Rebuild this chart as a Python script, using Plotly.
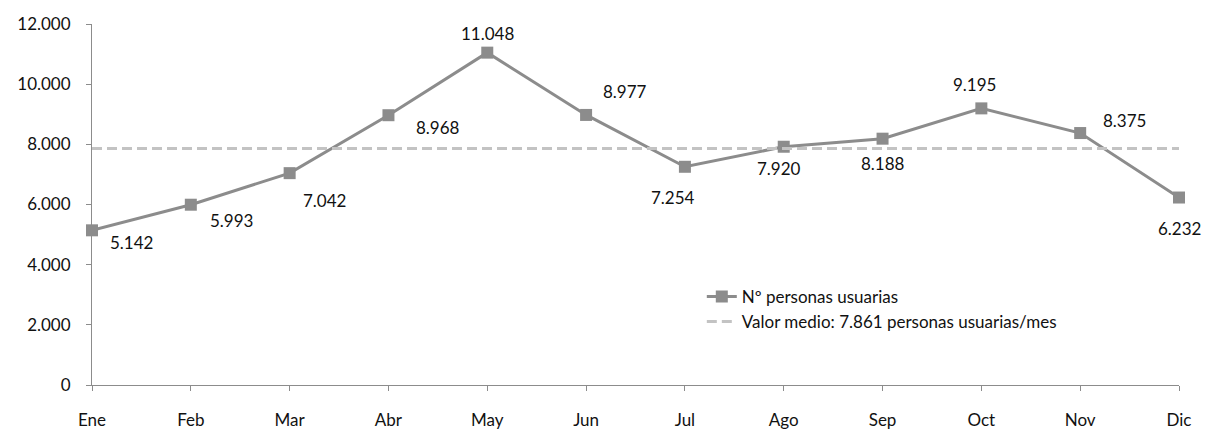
import plotly.graph_objects as go

# datos
meses = ['Ene', 'Feb', 'Mar', 'Abr', 'May', 'Jun', 'Jul', 'Ago', 'Sep', 'Oct', 'Nov', 'Dic']
usuarias = [5142, 5993, 7042, 8968, 11048, 8977, 7254, 7920, 8188, 9195, 8375, 6232]
media = 7861
y_ticks = [0, 2000, 4000, 6000, 8000, 10000, 12000]
y_tick_labels = ['0', '2.000', '4.000', '6.000', '8.000', '10.000', '12.000']

# desplazamiento de cada etiqueta respecto a su punto (px)
label_shift = [(39, -12), (41, -16), (35, -27), (50, -12), (0, 19), (39, 23),
               (-12, -31), (-5, -22), (0, -25), (-7, 24), (44, 13), (0, -31)]

GRIS = '#8c8c8c'
GRIS_CLARO = '#c3c3c3'
FUENTE = 'Lato, Calibri, sans-serif'


def fmt(v):
    return f'{v:,}'.replace(',', '.')


fig = go.Figure()
fig.add_trace(go.Scatter(
    x=meses, y=usuarias, mode='lines+markers', name='Nº personas usuarias',
    line=dict(color=GRIS, width=3),
    marker=dict(symbol='square', size=12, color=GRIS),
    cliponaxis=False,
))
fig.add_trace(go.Scatter(
    x=meses, y=[media] * len(meses), mode='lines',
    name=f'Valor medio: {fmt(media)} personas usuarias/mes',
    line=dict(color=GRIS_CLARO, width=3, dash='10px,5px'),
    cliponaxis=False,
))

for m, v, (dx, dy) in zip(meses, usuarias, label_shift):
    fig.add_annotation(x=m, y=v, text=fmt(v), showarrow=False,
                       xshift=dx, yshift=dy, font=dict(size=17, color='#111'))

fig.update_layout(
    width=1211, height=432,
    paper_bgcolor='white', plot_bgcolor='white',
    font=dict(family=FUENTE, size=17, color='#111'),
    margin=dict(l=92, r=32, t=24, b=47),
    showlegend=True,
    legend=dict(x=0.561, y=0.294, xanchor='left', yanchor='top',
                bgcolor='rgba(0,0,0,0)', font=dict(size=17),
                tracegroupgap=0, itemwidth=30),
)
fig.update_xaxes(
    type='category', range=[0, len(meses) - 1], automargin=False,
    showline=True, linecolor=GRIS, linewidth=1,
    ticks='outside', ticklen=5, tickcolor=GRIS,
    showgrid=False, zeroline=False, ticklabelstandoff=15,
)
fig.update_yaxes(
    range=[0, 12000], tickvals=y_ticks, ticktext=y_tick_labels, automargin=False,
    showline=True, linecolor=GRIS, linewidth=1,
    ticks='outside', ticklen=5, tickcolor=GRIS,
    showgrid=False, zeroline=False, ticklabelstandoff=12,
)

# quitar el margen por defecto del body para que el gráfico ocupe la ventana
fig.write_html('out.html', config={'displayModeBar': False},
               post_script="document.body.style.margin='0';")
